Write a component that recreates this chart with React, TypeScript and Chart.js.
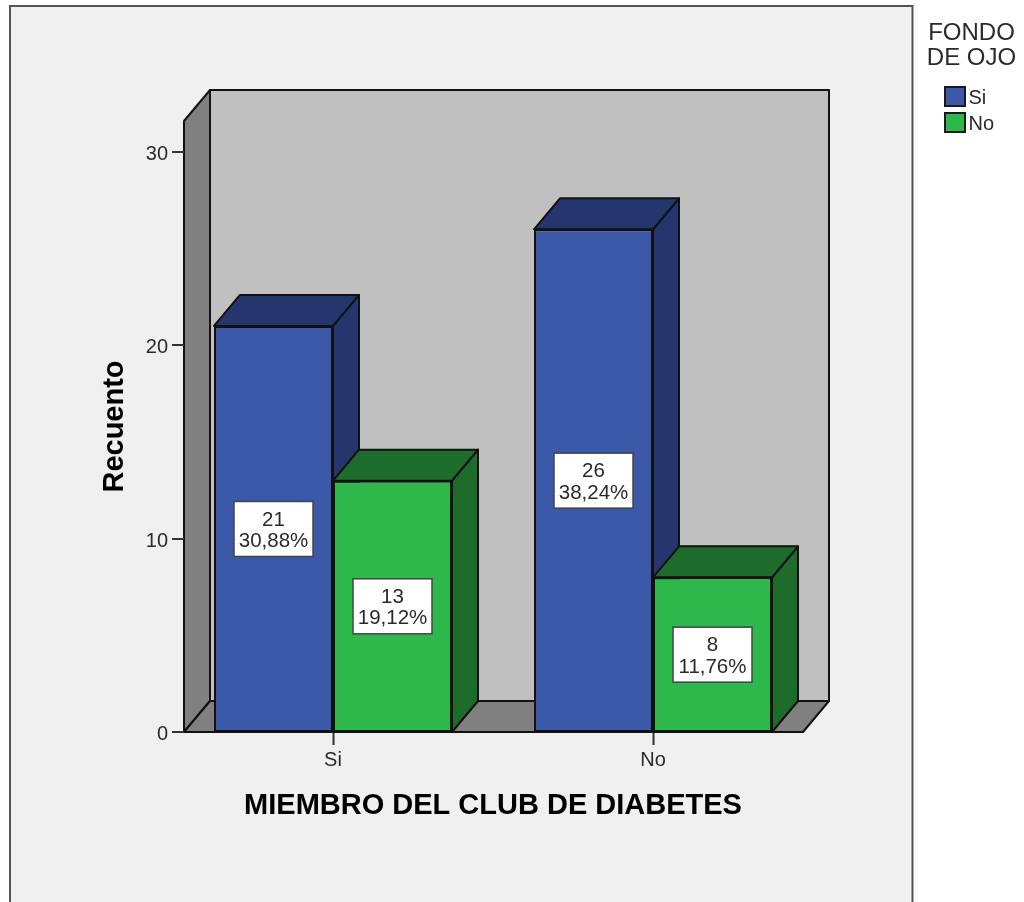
import React, { useEffect, useRef } from "react";
import { Chart, registerables } from "chart.js";

Chart.register(...registerables);

const categories = ["Si", "No"];
const seriesNames = ["Si", "No"];
const valuesSi = [21, 26];
const valuesNo = [13, 8];
const percentSi = ["30,88%", "38,24%"];
const percentNo = ["19,12%", "11,76%"];
const legendTitle = ["FONDO", "DE OJO"];
const yTickStep = 10;
const yMax = 31.6;

const FONT = "'Liberation Sans', Arial, sans-serif";
const INK = "#111111";
const TEXT = "#2A2A2A";
const FRONT = ["#3C58A8", "#2EB84C"];
const SHADE = ["#25366F", "#1E6C2C"];
const DEPTH_X = 26;
const DEPTH_Y = 31;

function poly(ctx: CanvasRenderingContext2D, pts: number[][], fill: string, lineWidth = 2) {
  ctx.beginPath();
  pts.forEach(([x, y], i) => (i ? ctx.lineTo(x, y) : ctx.moveTo(x, y)));
  ctx.closePath();
  ctx.fillStyle = fill;
  ctx.fill();
  ctx.lineWidth = lineWidth;
  ctx.strokeStyle = INK;
  ctx.lineJoin = "round";
  ctx.stroke();
}

// Walls, floor and the receding faces of each bar.
const scenePlugin = {
  id: "scene",
  beforeDatasetsDraw(chart: any) {
    const { ctx } = chart;
    const yS = chart.scales.y;
    const left = 184;
    const right = 803;
    const top = yS.getPixelForValue(yMax);
    const bottom = yS.getPixelForValue(0);
    ctx.save();
    poly(ctx, [[left + DEPTH_X, top - DEPTH_Y], [right + DEPTH_X, top - DEPTH_Y], [right + DEPTH_X, bottom - DEPTH_Y], [left + DEPTH_X, bottom - DEPTH_Y]], "#C0C0C0");
    poly(ctx, [[left, top], [left + DEPTH_X, top - DEPTH_Y], [left + DEPTH_X, bottom - DEPTH_Y], [left, bottom]], "#808080");
    poly(ctx, [[left, bottom], [left + DEPTH_X, bottom - DEPTH_Y], [right + DEPTH_X, bottom - DEPTH_Y], [right, bottom]], "#808080");

    ctx.strokeStyle = "#333333";
    ctx.lineWidth = 2;
    yS.ticks.forEach((t: any) => {
      const y = Math.round(yS.getPixelForValue(t.value));
      ctx.beginPath();
      ctx.moveTo(172, y);
      ctx.lineTo(left, y);
      ctx.stroke();
    });

    for (let c = 0; c < categories.length; c++) {
      for (let d = 0; d < chart.data.datasets.length; d++) {
        const bar = chart.getDatasetMeta(d).data[c];
        const l = bar.x - bar.width / 2;
        const r = bar.x + bar.width / 2;
        poly(ctx, [[r, bar.y], [r + DEPTH_X, bar.y - DEPTH_Y], [r + DEPTH_X, bar.base - DEPTH_Y], [r, bar.base]], SHADE[d]);
        poly(ctx, [[l, bar.y], [l + DEPTH_X, bar.y - DEPTH_Y], [r + DEPTH_X, bar.y - DEPTH_Y], [r, bar.y]], SHADE[d]);
      }
    }
    ctx.restore();
  },
  afterDatasetsDraw(chart: any) {
    const { ctx } = chart;
    const pct = [percentSi, percentNo];
    ctx.save();

    // Count and share boxes, centred on each bar's front face.
    chart.data.datasets.forEach((ds: any, d: number) => {
      chart.getDatasetMeta(d).data.forEach((bar: any, c: number) => {
        const cy = (bar.y + bar.base) / 2;
        const w = 79;
        const h = 55;
        ctx.fillStyle = "#FFFFFF";
        ctx.fillRect(bar.x - w / 2, cy - h / 2, w, h);
        ctx.strokeStyle = "#444444";
        ctx.lineWidth = 1.5;
        ctx.strokeRect(bar.x - w / 2, cy - h / 2, w, h);
        ctx.fillStyle = TEXT;
        ctx.font = `20.5px ${FONT}`;
        ctx.textAlign = "center";
        ctx.textBaseline = "middle";
        ctx.fillText(String(ds.data[c]), bar.x, cy - 9);
        ctx.fillText(pct[d][c], bar.x, cy + 12.5);
      });
    });

    // Front edge of the floor.
    const yS = chart.scales.y;
    ctx.strokeStyle = INK;
    ctx.lineWidth = 2;
    ctx.beginPath();
    ctx.moveTo(184, yS.getPixelForValue(0));
    ctx.lineTo(803, yS.getPixelForValue(0));
    ctx.stroke();

    // Legend.
    ctx.textAlign = "center";
    ctx.textBaseline = "middle";
    ctx.fillStyle = TEXT;
    ctx.font = `24px ${FONT}`;
    legendTitle.forEach((line, i) => ctx.fillText(line, 971.5, 33 + i * 25));
    ctx.textAlign = "left";
    ctx.font = `20px ${FONT}`;
    seriesNames.forEach((name, i) => {
      const y = 87 + i * 26;
      ctx.fillStyle = FRONT[i];
      ctx.fillRect(945, y, 20, 19);
      ctx.strokeStyle = "#1A1A1A";
      ctx.lineWidth = 2;
      ctx.strokeRect(945, y, 20, 19);
      ctx.fillStyle = TEXT;
      ctx.fillText(name, 968.5, y + 11);
    });
    ctx.restore();
  },
};

// Light panel behind the plot, running off the bottom of the page.
const panelPlugin = {
  id: "panel",
  beforeDraw(chart: any) {
    const { ctx, width, height } = chart;
    ctx.save();
    ctx.fillStyle = "#FFFFFF";
    ctx.fillRect(0, 0, width, height);
    ctx.fillStyle = "#F0F0F0";
    ctx.strokeStyle = "#555555";
    ctx.lineWidth = 2;
    ctx.fillRect(10, 6, 902.5, height);
    ctx.strokeRect(10, 6, 902.5, height + 10);
    ctx.restore();
  },
};

export default function App() {
  const ref = useRef<HTMLCanvasElement>(null);
  useEffect(() => {
    const chart = new Chart(ref.current!, {
      type: "bar",
      plugins: [panelPlugin, scenePlugin],
      data: {
        labels: categories,
        datasets: [
          { label: seriesNames[0], data: valuesSi, backgroundColor: FRONT[0] },
          { label: seriesNames[1], data: valuesNo, backgroundColor: FRONT[1] },
        ].map((d) => ({
          ...d,
          borderColor: INK,
          borderWidth: 2,
          borderSkipped: false,
          categoryPercentage: 0.74375,
          barPercentage: 1,
        })),
      },
      options: {
        animation: false,
        responsive: false,
        layout: { padding: { left: 0, right: 211, top: 121, bottom: 79 } },
        plugins: { legend: { display: false }, tooltip: { enabled: false } },
        scales: {
          x: {
            afterFit: (s: any) => {
              s.height = 91;
            },
            grid: { drawOnChartArea: false, offset: false, tickLength: 13, tickColor: "#333333", tickWidth: 2 },
            border: { display: false },
            ticks: { color: TEXT, font: { family: FONT, size: 20 }, padding: 3 },
            title: {
              display: true,
              text: "MIEMBRO DEL CLUB DE DIABETES",
              color: "#000000",
              font: { family: FONT, size: 29, weight: "bold" },
              padding: 0,
            },
          },
          y: {
            min: 0,
            max: yMax,
            afterFit: (s: any) => {
              s.width = 173;
            },
            grid: { display: false, drawTicks: false },
            border: { display: false },
            ticks: { stepSize: yTickStep, includeBounds: false, color: TEXT, font: { family: FONT, size: 20 }, padding: 5, labelOffset: 2.5 },
            title: {
              display: true,
              text: "Recuento",
              color: "#000000",
              font: { family: FONT, size: 29, weight: "bold" },
              padding: { top: 98, bottom: 0 },
            },
          },
        },
      },
    } as any);
    return () => chart.destroy();
  }, []);
  return (
    <div style={{ position: "absolute", left: 0, top: 0, width: 1024, height: 902, overflow: "hidden" }}>
      <canvas ref={ref} width={1024} height={902} style={{ display: "block" }} />
    </div>
  );
}
